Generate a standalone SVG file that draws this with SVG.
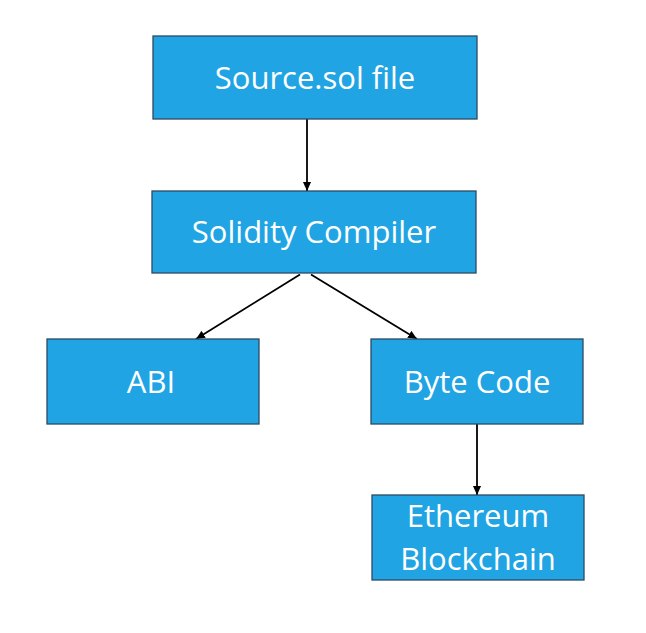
<svg xmlns="http://www.w3.org/2000/svg" width="646" height="633" viewBox="0 0 646 633">
<defs>
<style>
.box{fill:#21A4E3;stroke:#2B4A63;stroke-width:1.3}
.lbl{font-family:"Open Sans","Noto Sans","Liberation Sans",sans-serif;font-size:31px;fill:#FFFFFF;text-anchor:middle}
.edge{stroke:#000000;stroke-width:1.8;fill:none}
</style>
<marker id="arr" viewBox="0 0 10 10" refX="10" refY="5" markerWidth="9" markerHeight="9" markerUnits="userSpaceOnUse" orient="auto">
<path d="M0,0.5 L10,5 L0,9.5 Z" fill="#000000"/>
</marker>
</defs>
<rect x="0" y="0" width="646" height="633" fill="#FFFFFF"/>
<g id="connectors">
<line class="edge" x1="307" y1="119" x2="307" y2="191" marker-end="url(#arr)"/>
<line class="edge" x1="300" y1="274.5" x2="196" y2="339" marker-end="url(#arr)"/>
<line class="edge" x1="311" y1="274.5" x2="417" y2="339" marker-end="url(#arr)"/>
<line class="edge" x1="477" y1="424" x2="477" y2="495" marker-end="url(#arr)"/>
</g>
<g id="source">
<rect class="box" x="153" y="36" width="324" height="83"/>
<text class="lbl" x="315" y="89">Source.sol file</text>
</g>
<g id="compiler">
<rect class="box" x="152" y="191" width="324" height="82"/>
<text class="lbl" x="314" y="243">Solidity Compiler</text>
</g>
<g id="abi">
<rect class="box" x="47" y="339" width="212" height="85"/>
<text class="lbl" x="151" y="393">ABI</text>
</g>
<g id="bytecode">
<rect class="box" x="371" y="339" width="212" height="85"/>
<text class="lbl" x="477" y="393">Byte Code</text>
</g>
<g id="ethereum">
<rect class="box" x="372" y="495" width="212" height="85"/>
<text class="lbl" x="478" y="527">Ethereum</text>
<text class="lbl" x="478" y="570">Blockchain</text>
</g>
</svg>
